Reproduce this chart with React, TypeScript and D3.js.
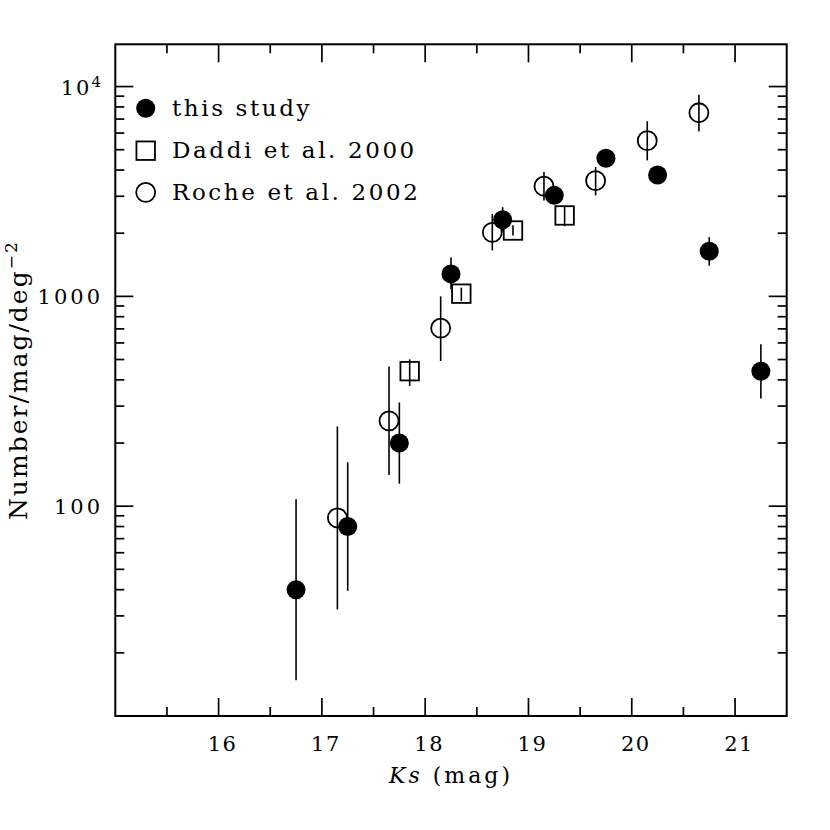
import React from 'react';
import * as d3 from 'd3';

// this study
const thisKs = [16.75, 17.25, 17.75, 18.25, 18.75, 19.25, 19.75, 20.25, 20.75, 21.25];
const thisN = [40, 80, 200, 1280, 2320, 3030, 4550, 3790, 1640, 440];
const thisLo = [14.8, 39.5, 128, 1080, 2040, 2800, 4250, 3550, 1400, 326];
const thisHi = [108, 162, 312, 1530, 2660, 3250, 4850, 4050, 1915, 592];

// Daddi et al. 2000
const daddiKs = [17.85, 18.35, 18.85, 19.35];
const daddiN = [440, 1030, 2060, 2430];
const daddiLo = [374, 950, 1950, 2160];
const daddiHi = [501, 1100, 2180, 2690];

// Roche et al. 2002
const rocheKs = [17.15, 17.65, 18.15, 18.65, 19.15, 19.65, 20.15, 20.65];
const rocheN = [88, 255, 705, 2020, 3350, 3560, 5520, 7500];
const rocheLo = [32.2, 141, 492, 1656, 2860, 3030, 4447, 6110];
const rocheHi = [240, 463, 1000, 2473, 3917, 4140, 6840, 9130];

const xMajor = [16, 17, 18, 19, 20, 21];
const xMinor = [15.5, 16.5, 17.5, 18.5, 19.5, 20.5];
const yMajor = [10, 100, 1000, 10000];
const yLabels = ['100', '1000'];

const legendNames = ['this study', 'Daddi et al. 2000', 'Roche et al. 2002'];

const W = 830;
const H = 830;
const FONT = '"DejaVu Serif", serif';

const x = d3.scaleLinear().domain([15, 21.5]).range([115.3, 786.7]);
const y = d3.scaleLog().domain([10, 15900]).range([716, 44.3]);

const yMinor: number[] = [];
yMajor.forEach((d) => {
  for (let k = 2; k <= 9; k++) {
    const v = d * k;
    if (v < y.domain()[1]) yMinor.push(v);
  }
});

const MAJ = 18;
const MIN = 9;
const R = 9.5;
const SQ = 18.5;

const App: React.FC = () => {
  const [x0, x1] = x.range();
  const [y0, y1] = y.range();

  const errBar = (ks: number[], lo: number[], hi: number[], key: string) =>
    ks.map((k, i) => (
      <line
        key={`${key}-${i}`}
        x1={x(k)}
        x2={x(k)}
        y1={y(lo[i])}
        y2={y(hi[i])}
        stroke="#000"
        strokeWidth={1.6}
      />
    ));

  return (
    <svg
      width={W}
      height={H}
      viewBox={`0 0 ${W} ${H}`}
      style={{ position: 'absolute', left: 0, top: 0, background: '#fff' }}
      fontFamily={FONT}
    >
      <rect x={0} y={0} width={W} height={H} fill="#fff" />

      {/* ticks, all four sides */}
      <g stroke="#000" strokeWidth={1.7}>
        {xMajor.map((v) => (
          <g key={`xM${v}`}>
            <line x1={x(v)} x2={x(v)} y1={y0} y2={y0 - MAJ} />
            <line x1={x(v)} x2={x(v)} y1={y1} y2={y1 + MAJ} />
          </g>
        ))}
        {xMinor.map((v) => (
          <g key={`xm${v}`}>
            <line x1={x(v)} x2={x(v)} y1={y0} y2={y0 - MIN} />
            <line x1={x(v)} x2={x(v)} y1={y1} y2={y1 + MIN} />
          </g>
        ))}
        {yMajor.map((v) => (
          <g key={`yM${v}`}>
            <line x1={x0} x2={x0 + MAJ} y1={y(v)} y2={y(v)} />
            <line x1={x1} x2={x1 - MAJ} y1={y(v)} y2={y(v)} />
          </g>
        ))}
        {yMinor.map((v) => (
          <g key={`ym${v}`}>
            <line x1={x0} x2={x0 + MIN} y1={y(v)} y2={y(v)} />
            <line x1={x1} x2={x1 - MIN} y1={y(v)} y2={y(v)} />
          </g>
        ))}
      </g>

      {/* frame */}
      <rect x={x0} y={y1} width={x1 - x0} height={y0 - y1} fill="none" stroke="#000" strokeWidth={2} />

      {/* x tick labels */}
      {xMajor.map((v) => (
        <text key={`xl${v}`} x={x(v) + 4} y={751} fontSize={21} textAnchor="middle" letterSpacing={1.5}>
          {v}
        </text>
      ))}

      {/* y tick labels */}
      {yLabels.map((t) => (
        <text key={`yl${t}`} x={103} y={y(+t) + 8} fontSize={21} textAnchor="end" letterSpacing={3}>
          {t}
        </text>
      ))}
      <text x={103} y={y(10000) + 8} fontSize={21} textAnchor="end" letterSpacing={2}>
        10
        <tspan dy={-8} fontSize={15}>4</tspan>
      </text>

      {/* axis titles */}
      <text x={(x0 + x1) / 2} y={783} fontSize={22} textAnchor="middle" letterSpacing={3} xmlSpace="preserve">
        <tspan fontStyle="italic">Ks</tspan>
        <tspan> (mag)</tspan>
      </text>
      <text
        transform={`translate(27,${(y0 + y1) / 2}) rotate(-90)`}
        fontSize={25}
        textAnchor="middle"
        letterSpacing={2}
      >
        Number/mag/deg
        <tspan dy={-10} fontSize={17}>−2</tspan>
      </text>

      {/* error bars */}
      {errBar(rocheKs, rocheLo, rocheHi, 'r')}
      {errBar(daddiKs, daddiLo, daddiHi, 'd')}
      {errBar(thisKs, thisLo, thisHi, 't')}

      {/* Roche: open circles */}
      {rocheKs.map((k, i) => (
        <circle key={`rc${i}`} cx={x(k)} cy={y(rocheN[i])} r={R} fill="none" stroke="#000" strokeWidth={1.8} />
      ))}
      {/* Daddi: open squares */}
      {daddiKs.map((k, i) => (
        <rect
          key={`ds${i}`}
          x={x(k) - SQ / 2}
          y={y(daddiN[i]) - SQ / 2}
          width={SQ}
          height={SQ}
          fill="none"
          stroke="#000"
          strokeWidth={1.8}
        />
      ))}
      {/* this study: filled circles */}
      {thisKs.map((k, i) => (
        <circle key={`tc${i}`} cx={x(k)} cy={y(thisN[i])} r={R} fill="#000" />
      ))}

      {/* legend */}
      <g>
        <circle cx={145.7} cy={108.3} r={R} fill="#000" />
        <rect x={145.7 - SQ / 2} y={150.7 - SQ / 2} width={SQ} height={SQ} fill="none" stroke="#000" strokeWidth={1.8} />
        <circle cx={145.7} cy={192.3} r={R} fill="none" stroke="#000" strokeWidth={1.8} />
        {legendNames.map((n, i) => (
          <text key={n} x={172} y={115.5 + i * 42} fontSize={23} letterSpacing={2.6}>
            {n}
          </text>
        ))}
      </g>
    </svg>
  );
};

export default App;
